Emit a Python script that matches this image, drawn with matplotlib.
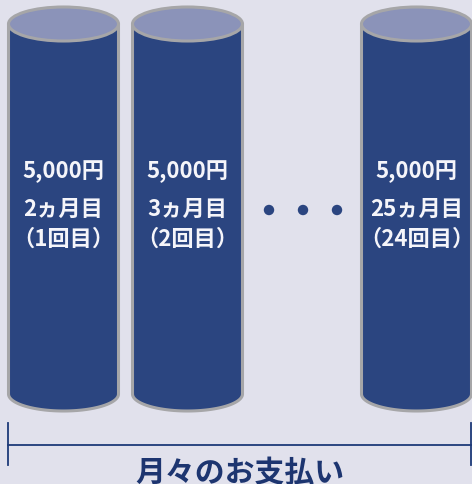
import matplotlib
matplotlib.use("Agg")
import matplotlib.pyplot as plt
from matplotlib.patches import Ellipse, Circle, PathPatch
from matplotlib.path import Path
import numpy as np

plt.rcParams['font.family'] = ['Noto Sans CJK JP', 'DejaVu Sans']

amounts = ["5,000円", "5,000円", "5,000円"]
months = ["2ヵ月目", "3ヵ月目", "25ヵ月目"]
counts = ["（1回目）", "（2回目）", "（24回目）"]
title = "月々のお支払い"

W, H = 472, 484
fig = plt.figure(figsize=(W/100, H/100), dpi=100)
ax = fig.add_axes([0, 0, 1, 1])
ax.set_xlim(0, W)
ax.set_ylim(H, 0)
ax.axis('off')
bg = '#e1e1ec'
fig.patch.set_facecolor(bg)

body_c = '#2b4580'
top_c = '#8b93b9'
edge_c = '#a6a6a8'
navy = '#1e3a78'

centers = [63.5, 187.5, 416.5]
cw = 110
ytop, ybot, ry = 24, 394, 17

for cx, a, m, c in zip(centers, amounts, months, counts):
    x0, x1 = cx - cw/2, cx + cw/2
    t = np.linspace(0, np.pi, 60)
    verts = [(x0, ytop), (x0, ybot)]
    verts += [(cx - (cw/2)*np.cos(tt), ybot + ry*np.sin(tt)) for tt in t]
    verts += [(x1, ytop), (x0, ytop)]
    codes = [Path.MOVETO] + [Path.LINETO]*(len(verts)-2) + [Path.CLOSEPOLY]
    ax.add_patch(PathPatch(Path(verts, codes), facecolor=body_c, edgecolor=edge_c, lw=2.2, joinstyle='round'))
    ax.add_patch(Ellipse((cx, ytop), cw, 2*ry, facecolor=top_c, edgecolor=edge_c, lw=2.2))
    ax.text(cx, 172, a, ha='center', va='center', color='#f5f5fa', fontsize=16, fontweight='bold')
    ax.text(cx, 209, m, ha='center', va='center', color='#f5f5fa', fontsize=16, fontweight='bold')
    ax.text(cx, 239, c, ha='center', va='center', color='#f5f5fa', fontsize=16, fontweight='bold')

for dx in [269, 303, 337]:
    ax.add_patch(Circle((dx, 210), 5.2, facecolor=body_c, edgecolor='none'))

ax.plot([8, 471], [445, 445], color=navy, lw=1.3)
ax.plot([8, 8], [423, 465], color=navy, lw=1.3)
ax.plot([471, 471], [423, 465], color=navy, lw=1.3)

ax.text(240, 473, title, ha='center', va='center', color='#1d3570', fontsize=21.5, fontweight='bold')

fig.savefig('out.png', dpi=100, facecolor=bg)
